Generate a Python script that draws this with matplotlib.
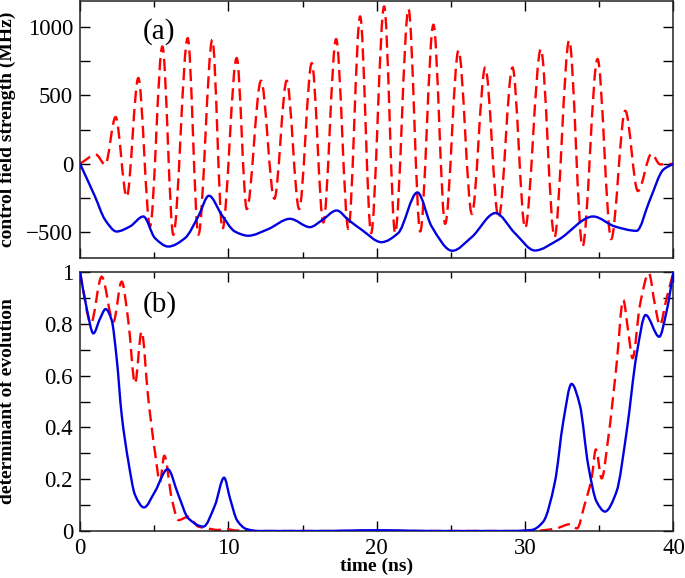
import numpy as np
import matplotlib
matplotlib.use("Agg")
import matplotlib.pyplot as plt
from matplotlib.path import Path
from matplotlib.patches import PathPatch
from matplotlib.ticker import MultipleLocator

# ---------------- data ----------------
# (a) control field strength (MHz) vs time (ns)
t_red_a = [0, 1.08, 1.7, 2.4, 3.15, 3.93, 4.72, 5.55, 6.29, 7.26, 7.98, 8.92, 9.6,
           10.56, 11.24, 12.2, 13.1, 13.93, 14.77, 15.62, 16.4, 17.26, 18.09, 18.88,
           19.62, 20.5, 21.24, 22.14, 22.93, 23.82, 24.61, 25.51, 26.41, 27.31, 28.21,
           29.15, 30.0, 31.06, 31.98, 32.97, 33.87, 34.88, 35.8, 36.75, 37.6, 38.52,
           39.1, 40]
v_red_a = [0, 66, -7, 342, -243, 628, -459, 859, -520, 920, -520, 908, -478,
           774, -332, 608, -256, 608, -332, 737, -430, 913, -478, 1079,
           -508, 1152, -508, 1133, -496, 1018, -440, 830, -368, 705, -398,
           705, -471, 840, -537, 903, -606, 767, -552, 388, -200, 73,
           -5, 0]

t_blue_a = [0, 1.01, 1.69, 2.47, 3.37, 4.27, 5.05, 5.95, 7.08, 7.97, 8.69, 9.55,
            10.44, 11.34, 12.69, 14.15, 15.5, 16.29, 17.3, 18.08, 18.98, 20.32,
            21.44, 22.74, 23.7, 25.09, 26.4, 28.0, 29.31, 30.66, 32.23, 34.59,
            36.05, 37.51, 38.41, 39.31, 40]
v_blue_a = [0, -240, -410, -496, -459, -386, -544, -606, -544, -386, -234, -374,
            -496, -527, -478, -403, -464, -415, -342, -410, -483, -574,
            -508, -210, -459, -637, -537, -361, -508, -635, -557, -386,
            -459, -491, -264, -44, 0]

# (b) determinant of evolution vs time (ns)
t_blue_b = [0, 0.45, 0.9, 1.35, 1.73, 2.13, 2.47, 2.81, 3.26, 3.71, 4.31, 5.05,
            5.91, 6.63, 7.3, 8.31, 9.1, 9.71, 10.11, 10.6, 11.2, 12.0, 16, 20, 24,
            29, 30.44, 31.22, 32.01, 32.57, 33.13, 33.69, 34.25, 34.82, 35.38,
            36.16, 36.84, 37.51, 38.12, 39.04, 39.53, 40]
v_blue_b = [1.0, 0.86, 0.763, 0.82, 0.857, 0.815, 0.667, 0.448, 0.268, 0.139, 0.091, 0.152,
            0.239, 0.139, 0.049, 0.017, 0.1, 0.206, 0.126, 0.04, 0.008, 0.0, 0.0, 0.003, 0.0,
            0.0, 0.004, 0.036, 0.19, 0.422, 0.568, 0.486, 0.255, 0.113, 0.075,
            0.152, 0.383, 0.68, 0.834, 0.75, 0.847, 1.0]

t_red_b = [0, 0.74, 1.46, 2.25, 2.81, 3.26, 3.71, 4.15, 4.6, 5.05, 5.39, 5.68,
           6.18, 6.63, 7.3, 7.97, 8.6, 9.32, 9.8, 10.5, 12, 20, 30.5, 32.1, 33.0,
           33.5, 34.0, 34.48, 34.77, 35.16, 35.6, 36.16, 36.61, 36.95, 37.24,
           37.74, 38.34, 38.75, 39.08, 39.53, 40]
v_red_b = [1.0, 0.803, 0.982, 0.808, 0.963, 0.808, 0.57, 0.77, 0.512, 0.306, 0.19, 0.291,
           0.126, 0.042, 0.055, 0.017, 0.01, 0.004, 0.008, 0.002, 0.0, 0.0, 0.0, 0.01, 0.026,
           0.01, 0.1, 0.203, 0.315, 0.203, 0.358, 0.641, 0.892, 0.77, 0.667,
           0.873, 0.995, 0.873, 0.795, 0.898, 1.0]

x_ticks = [0, 10, 20, 30, 40]
ya_ticks = [-500, 0, 500, 1000]
yb_ticks = [0, 0.2, 0.4, 0.6, 0.8, 1]
yb_labels = ["0", "0.2", "0.4", "0.6", "0.8", "1"]

plt.rcParams['font.family'] = ['Liberation Serif', 'DejaVu Serif']

RED = '#ff0000'
BLUE = '#0000e0'


def smooth_path(x, y):
    """Monotone cubic (Fritsch-Butland) Bezier path through the data points."""
    x = np.asarray(x, float)
    y = np.asarray(y, float)
    h = np.diff(x)
    d = np.diff(y) / h
    n = len(x)
    m = np.zeros(n)
    for k in range(1, n - 1):
        if d[k - 1] * d[k] > 0:
            w1 = 2 * h[k] + h[k - 1]
            w2 = h[k] + 2 * h[k - 1]
            m[k] = (w1 + w2) / (w1 / d[k - 1] + w2 / d[k])
    m[0] = d[0]
    m[-1] = d[-1]
    verts = [(x[0], y[0])]
    codes = [Path.MOVETO]
    for k in range(n - 1):
        verts += [(x[k] + h[k] / 3, y[k] + m[k] * h[k] / 3),
                  (x[k + 1] - h[k] / 3, y[k + 1] - m[k + 1] * h[k] / 3),
                  (x[k + 1], y[k + 1])]
        codes += [Path.CURVE4] * 3
    return Path(verts, codes)


def draw(ax, x, y, color, dashed, z):
    ls = (0, (5.2, 2.6)) if dashed else '-'
    p = PathPatch(smooth_path(x, y), fill=False, edgecolor=color, lw=1.7,
                  linestyle=ls, transform=ax.transData, zorder=z,
                  capstyle='butt', joinstyle='round')
    ax.add_patch(p)


fig = plt.figure(figsize=(6.85, 5.78), dpi=100)
ax1 = fig.add_axes([0.1168, 0.5536, 0.8664, 0.4444])
ax2 = fig.add_axes([0.1168, 0.0813, 0.8664, 0.4481])

draw(ax1, t_red_a, v_red_a, RED, True, 2)
draw(ax1, t_blue_a, v_blue_a, BLUE, False, 3)
draw(ax2, t_red_b, v_red_b, RED, True, 2)
draw(ax2, t_blue_b, v_blue_b, BLUE, False, 3)

for ax in (ax1, ax2):
    ax.set_xlim(0, 40)
    ax.set_xticks(x_ticks)
    ax.xaxis.set_minor_locator(MultipleLocator(5))
    ax.tick_params(which='both', direction='in', top=True, right=True,
                   labelsize=16.5, pad=5, width=1.0)
    ax.tick_params(which='major', length=7)
    ax.tick_params(which='minor', length=4)
    for s in ax.spines.values():
        s.set_linewidth(1.1)
        s.set_color('#222222')

ax1.set_ylim(-690, 1190)
ax1.set_yticks(ya_ticks)
ax1.yaxis.set_minor_locator(MultipleLocator(250))
ax1.tick_params(axis='y', which='minor', length=7)
ax1.tick_params(axis='x', labelbottom=False)
ax1.set_ylabel('control field strength (MHz)', fontsize=14, fontweight='bold')

ax2.set_ylim(0, 1)
ax2.set_yticks(yb_ticks)
ax2.set_yticklabels(yb_labels)
ax2.yaxis.set_minor_locator(MultipleLocator(0.1))
ax2.tick_params(axis='y', which='minor', length=7)
ax2.set_xticklabels([str(v) for v in x_ticks])
ax2.set_ylabel('determinant of evolution', fontsize=14, fontweight='bold')
ax2.set_xlabel('time (ns)', fontsize=14, fontweight='bold', labelpad=-1)

ax1.yaxis.set_label_coords(-0.108, 0.5)
ax2.yaxis.set_label_coords(-0.108, 0.5)

ax1.text(0.133, 0.881, '(a)', transform=ax1.transAxes, fontsize=21,
         ha='center', va='center')
ax2.text(0.135, 0.876, '(b)', transform=ax2.transAxes, fontsize=21,
         ha='center', va='center')

fig.savefig('out.png', dpi=100)
